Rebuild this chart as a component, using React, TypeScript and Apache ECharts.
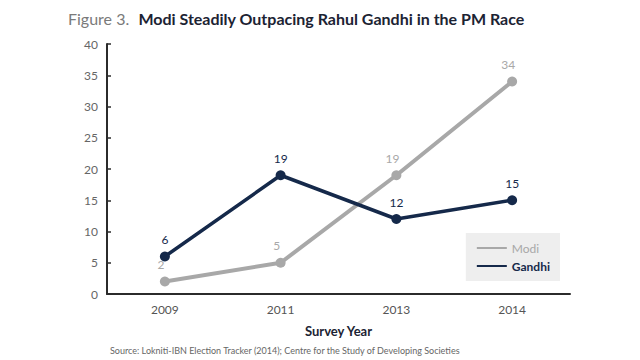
import React, { useEffect, useRef } from "react";
import * as echarts from "echarts";

const years = ["2009", "2011", "2013", "2014"];
const modi = [2, 5, 19, 34];
const gandhi = [6, 19, 12, 15];
const yTicks = { min: 0, max: 40, interval: 5 };

const FONT = "Lato, 'Open Sans', sans-serif";
const GRAY = "#a8a8a8";
const NAVY = "#15294a";

export default function App() {
  const ref = useRef<HTMLDivElement>(null);
  useEffect(() => {
    document.body.style.margin = "0";
    const chart = echarts.init(ref.current!, null, { renderer: "svg" });
    chart.setOption({
      animation: false,
      backgroundColor: "#ffffff",
      textStyle: { fontFamily: FONT },
      title: {
        text: "{a|Figure 3.}  {b|Modi Steadily Outpacing Rahul Gandhi in the PM Race}",
        left: 63,
        top: 4,
        textStyle: {
          fontWeight: "normal",
          rich: {
            a: { fontFamily: FONT, fontSize: 16, fontWeight: "normal", color: "#7a7a7a" },
            b: { fontFamily: FONT, fontSize: 16, fontWeight: "bold", color: "#1c2333" },
          },
        },
      },
      grid: { left: 107, right: 70, top: 44, bottom: 66 },
      legend: {
        orient: "vertical",
        right: 80,
        top: 233,
        backgroundColor: "#eeeeee",
        padding: [9, 10, 9, 10],
        itemWidth: 30,
        itemHeight: 10,
        itemGap: 6,
        data: [
          { name: "Modi", itemStyle: { opacity: 0 }, textStyle: { color: GRAY, fontSize: 12, fontFamily: FONT } },
          { name: "Gandhi", itemStyle: { opacity: 0 }, textStyle: { color: NAVY, fontSize: 12, fontWeight: "bold", fontFamily: FONT } },
        ],
      },
      xAxis: {
        type: "category",
        data: years,
        boundaryGap: true,
        axisLine: { lineStyle: { color: "#2b2b2b", width: 2 } },
        axisTick: { show: false },
        axisLabel: { color: "#555555", fontSize: 12, margin: 9, fontFamily: FONT },
        name: "Survey Year",
        nameLocation: "middle",
        nameGap: 30,
        nameTextStyle: { color: "#1c2333", fontWeight: "bold", fontSize: 13, fontFamily: FONT },
      },
      yAxis: {
        type: "value",
        min: yTicks.min,
        max: yTicks.max,
        interval: yTicks.interval,
        splitLine: { show: false },
        axisLine: { show: true, lineStyle: { color: "#2b2b2b", width: 2 } },
        axisTick: { show: true, inside: true, length: 4, lineStyle: { color: "#2b2b2b", width: 1.5 } },
        axisLabel: { color: "#666666", fontSize: 12, margin: 9, fontFamily: FONT },
      },
      graphic: [
        {
          type: "text",
          left: 110,
          top: 346,
          style: {
            text: "Source: Lokniti-IBN Election Tracker (2014); Centre for the Study of Developing Societies",
            fill: "#666666",
            fontSize: 9,
            fontFamily: FONT,
          },
        },
      ],
      series: [
        {
          name: "Modi",
          type: "line",
          data: modi,
          symbol: "circle",
          symbolSize: 10,
          lineStyle: { color: GRAY, width: 4 },
          itemStyle: { color: GRAY },
          label: { show: true, position: "top", distance: 6, color: GRAY, fontSize: 12, fontFamily: FONT, offset: [-4, 0] },
          z: 2,
        },
        {
          name: "Gandhi",
          type: "line",
          data: gandhi,
          symbol: "circle",
          symbolSize: 10,
          lineStyle: { color: NAVY, width: 3.5 },
          itemStyle: { color: NAVY },
          label: { show: true, position: "top", distance: 6, color: NAVY, fontSize: 12, fontFamily: FONT },
          z: 3,
        },
      ],
    });
    return () => chart.dispose();
  }, []);
  return <div ref={ref} style={{ width: 640, height: 360 }} />;
}
